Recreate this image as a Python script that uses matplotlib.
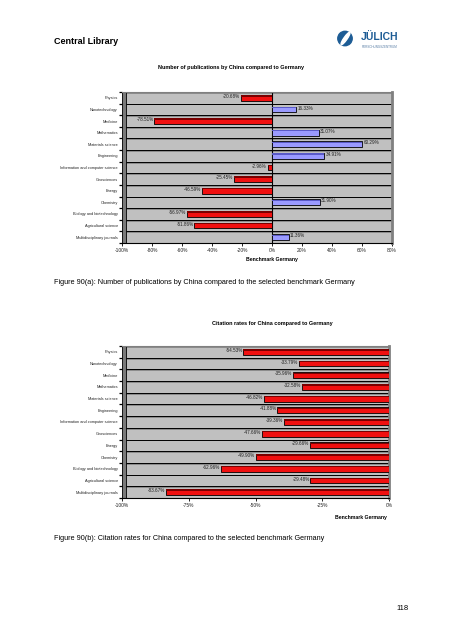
import numpy as np
import matplotlib
matplotlib.use("Agg")
import matplotlib.pyplot as plt
from matplotlib.patches import Rectangle, Circle, Ellipse

plt.rcParams["font.family"] = ["Liberation Sans", "DejaVu Sans"]

W, H = 452, 640

categories = ["Physics", "Nanotechnology", "Medicine", "Mathematics", "Materials science",
              "Engineering", "Information and computer science", "Geosciences", "Energy",
              "Chemistry", "Biology and biotechnology", "Agricultural science",
              "Multidisciplinary journals"]
pubs_pct = [-20.68, 16.33, -78.51, 31.07, 60.29, 34.91, -2.96, -25.45, -46.59,
            31.90, -56.97, -51.86, 11.36]
cites_pct = [-54.53, -33.79, -35.96, -32.58, -46.82, -41.88, -39.36, -47.66, -29.66,
             -49.90, -62.96, -29.48, -83.67]
pub_ticks = [-100, -80, -60, -40, -20, 0, 20, 40, 60, 80]
cite_ticks = [-100, -75, -50, -25, 0]


def px(x, y):
    """pixel position (from top-left) -> figure fraction"""
    return x / W, 1 - y / H


def draw_panel(ax, vals, ticks, wall_w, zero_line):
    n = len(categories)
    y = np.arange(n)
    ax.set_facecolor("#c0c0c0")
    ax.set_xlim(ticks[0], ticks[-1])
    ax.set_ylim(n - 0.5, -0.5)
    for k in range(n + 1):
        b = k - 0.5
        ax.add_patch(Rectangle((ticks[0], b), ticks[-1] - ticks[0], 0.16,
                               facecolor="#8c8c8c", lw=0, zorder=1))
        ax.axhline(b, color="black", lw=0.7, zorder=2)
    # left wall
    ax.add_patch(Rectangle((ticks[0], -0.5), wall_w, n, facecolor="#7a7a7a",
                           edgecolor="black", lw=0.6, zorder=2, clip_on=False))
    if zero_line:
        ax.axvline(0, color="black", lw=0.8, zorder=2)

    cols = ["#f01010" if v < 0 else "#9a9aff" for v in vals]
    tops = ["#7a0000" if v < 0 else "#5a5ac8" for v in vals]
    ax.barh(y, vals, height=0.5, color=cols, edgecolor="black", lw=0.6, zorder=3)
    ax.barh(y - 0.17, vals, height=0.12, color=tops, lw=0, zorder=4)
    for yi, v in zip(y, vals):
        if v < 0:
            ax.annotate(f"{v:.2f}%", (v, yi - 0.12), xytext=(-0.5, 0), textcoords="offset points",
                        ha="right", va="center", fontsize=3.3, color="#222222", zorder=5)
        else:
            ax.annotate(f"{v:.2f}%", (v, yi - 0.12), xytext=(0.8, 0), textcoords="offset points",
                        ha="left", va="center", fontsize=3.3, color="#222222", zorder=5)

    ax.set_yticks(y, categories, fontsize=2.8, color="#222222")
    ax.set_yticks(np.arange(n + 1) - 0.5, minor=True)
    ax.tick_params(axis="y", which="major", length=0, pad=3)
    ax.tick_params(axis="y", which="minor", length=2.5, width=0.9, color="black")
    ax.set_xticks(ticks, [f"{t}%" for t in ticks], fontsize=3.5, color="#222222")
    ax.tick_params(axis="x", length=2, width=0.6, pad=1.5)
    ax.spines["left"].set_visible(False)
    ax.spines["bottom"].set_color("black")
    ax.spines["bottom"].set_linewidth(0.8)
    ax.spines["top"].set_color("#808080")
    ax.spines["right"].set_color("#808080")
    ax.spines["right"].set_linewidth(2.0)


fig = plt.figure(figsize=(W / 100, H / 100), dpi=100)

# header
fig.text(*px(54, 42), "Central Library", fontsize=6.5, weight="bold", va="center")
lax = fig.add_axes([336 / W, 1 - 54 / H, 74 / W, 28 / H])
lax.set_xlim(336, 410)
lax.set_ylim(54, 26)
lax.axis("off")
lax.add_patch(Circle((345, 38.5), 7.2, color="#1d5c95"))
lax.add_patch(Ellipse((345.5, 38.5), 15, 3.2, angle=-55, color="white"))
lax.text(361, 37.5, "JÜLICH", fontsize=7.5, weight="bold", color="#1d5c95", va="center")
lax.text(362, 47.5, "FORSCHUNGSZENTRUM", fontsize=2.2, color="#5a7fa6", va="center")

# chart (a)
fig.text(*px(231, 68), "Number of publications by China compared to Germany",
         fontsize=4.0, weight="bold", ha="center", va="center")
ax1 = fig.add_axes([122 / W, 1 - 243 / H, 270 / W, 151 / H])
draw_panel(ax1, pubs_pct, pub_ticks, 2.8, True)
fig.text(*px(272, 260), "Benchmark Germany", fontsize=3.7, weight="bold", ha="center", va="center")
fig.text(*px(54, 282), "Figure 90(a): Number of publications by China compared to the selected benchmark Germany",
         fontsize=5.2, va="center")

# chart (b)
fig.text(*px(272, 323), "Citation rates for China compared to Germany",
         fontsize=4.0, weight="bold", ha="center", va="center")
ax2 = fig.add_axes([122 / W, 1 - 498 / H, 267 / W, 152 / H])
draw_panel(ax2, cites_pct, cite_ticks, 1.6, False)
fig.text(*px(361, 518), "Benchmark Germany", fontsize=3.7, weight="bold", ha="center", va="center")
fig.text(*px(54, 538), "Figure 90(b): Citation rates for China compared to the selected benchmark Germany",
         fontsize=5.2, va="center")

fig.text(*px(409, 608), "118", fontsize=5.5, ha="right", va="center")

fig.savefig("out.png", dpi=100)
